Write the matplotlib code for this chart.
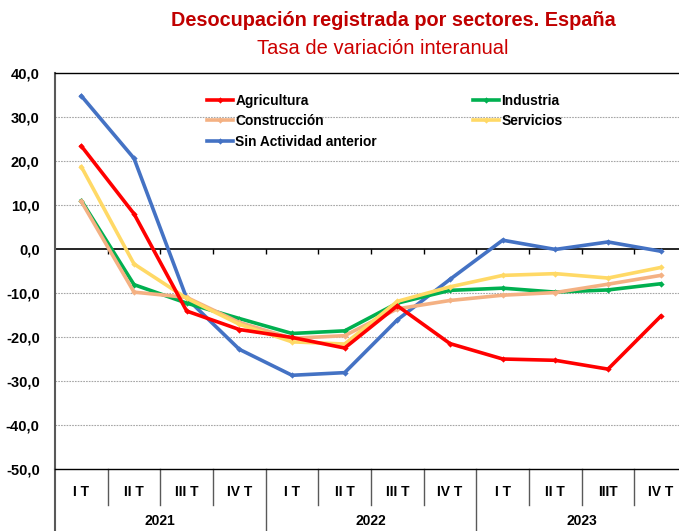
import numpy as np
import matplotlib
matplotlib.use('Agg')
import matplotlib.pyplot as plt
import matplotlib.transforms as mtransforms

plt.rcParams['font.family'] = ['Liberation Sans', 'DejaVu Sans']

# ---- data ----------------------------------------------------
quarters = ['I T', 'II T', 'III T', 'IV T',
            'I T', 'II T', 'III T', 'IV T',
            'I T', 'II T', 'IIIT', 'IV T']
years = ['2021', '2022', '2023']

agricultura  = [23.4, 8.0, -14.1, -18.3, -20.1, -22.5, -12.9, -21.5, -25.0, -25.3, -27.3, -15.3]
industria    = [11.0, -8.1, -12.3, -15.8, -19.2, -18.6, -12.3, -9.4, -8.9, -9.8, -9.3, -7.9]
construccion = [10.8, -9.8, -11.0, -16.7, -20.3, -19.7, -13.6, -11.7, -10.5, -9.9, -8.0, -6.0]
servicios    = [18.7, -3.4, -11.2, -17.1, -21.1, -21.6, -11.9, -8.6, -6.0, -5.6, -6.6, -4.2]
sin_actividad = [34.8, 20.6, -11.2, -22.8, -28.7, -28.1, -16.1, -6.9, 2.0, -0.1, 1.6, -0.5]

series = [
    ('Agricultura', agricultura, '#FF0000'),
    ('Construcción', construccion, '#F4B183'),
    ('Sin Actividad anterior', sin_actividad, '#4472C4'),
    ('Industria', industria, '#00B050'),
    ('Servicios', servicios, '#FFD966'),
]
# draw order (back to front)
draw_order = ['Sin Actividad anterior', 'Industria', 'Construcción', 'Servicios', 'Agricultura']

# ---- figure ----------------------------------------------------
fig = plt.figure(figsize=(6.79, 5.31), dpi=100)
ax = fig.add_axes([55/679, 62/531, 632/679, 396/531])

x = np.arange(len(quarters))
handles = {}
for name, vals, col in series:
    z = 3 + draw_order.index(name)
    h, = ax.plot(x, vals, color=col, lw=2.6, marker='D', ms=3.2,
                 markeredgewidth=0, label=name, zorder=z, solid_joinstyle='miter')
    handles[name] = h

ax.set_xlim(-0.5, 11.5)
ax.set_ylim(-50, 40)
ax.set_yticks(np.arange(-50, 41, 10))
ax.set_yticklabels([f'{v:.1f}'.replace('.', ',') for v in np.arange(-50, 41, 10)],
                   fontsize=10.5, fontweight='bold')
ax.tick_params(axis='y', length=0, pad=11)
ax.set_xticks([])

for v in range(-40, 40, 10):
    if v != 0:
        ax.axhline(v, color='#A6A6A6', lw=0.8, ls=(0, (1.5, 1)), zorder=1)
ax.axhline(0, color='black', lw=1.2, zorder=2)
ax.vlines(np.arange(0.5, 11, 1), -1.1, 0, color='black', lw=1.0, zorder=2)

for s in ['left', 'top', 'right', 'bottom']:
    ax.spines[s].set_linewidth(1.0)
ax.spines['left'].set_color('#595959')
ax.spines['left'].set_linewidth(1.5)
ax.spines['top'].set_color('black')
ax.spines['bottom'].set_color('black')

# category axis below the plot
trans = mtransforms.blended_transform_factory(ax.transData, ax.transAxes)
for i, q in enumerate(quarters):
    ax.text(i, -0.058, q, transform=trans, ha='center', va='center',
            fontsize=10, fontweight='bold')
for b in np.arange(0.5, 11, 1):
    if (b + 0.5) % 4 != 0:
        ax.plot([b, b], [0, -0.091], transform=trans, color='#595959',
                lw=1.0, clip_on=False)
for b in [-0.5, 3.5, 7.5, 11.5]:
    ax.plot([b, b], [0, -0.2], transform=trans, color='#595959',
            lw=1.0 if b > -0.5 else 1.5, clip_on=False)
for j, yr in enumerate(years):
    ax.text(4 * j + 1.5, -0.131, yr, transform=trans, ha='center', va='center',
            fontsize=10, fontweight='bold')

# legend
order = ['Agricultura', 'Construcción', 'Sin Actividad anterior', 'Industria', 'Servicios']
ax.legend([handles[n] for n in order], order, ncol=2, frameon=False,
          loc='upper left', bbox_to_anchor=(0.232, 0.962),
          prop={'weight': 'bold', 'size': 9.9}, handlelength=1.9,
          handletextpad=0.15, columnspacing=7.0, labelspacing=0.48,
          borderaxespad=0)

fig.text(393/679, 1 - 20/531, 'Desocupación registrada por sectores. España',
         ha='center', va='center', fontsize=14.3, fontweight='bold', color='#C00000')
fig.text(383/679, 1 - 48/531, 'Tasa de variación interanual',
         ha='center', va='center', fontsize=14.5, color='#CC0000')

fig.savefig('out.png', dpi=100)
